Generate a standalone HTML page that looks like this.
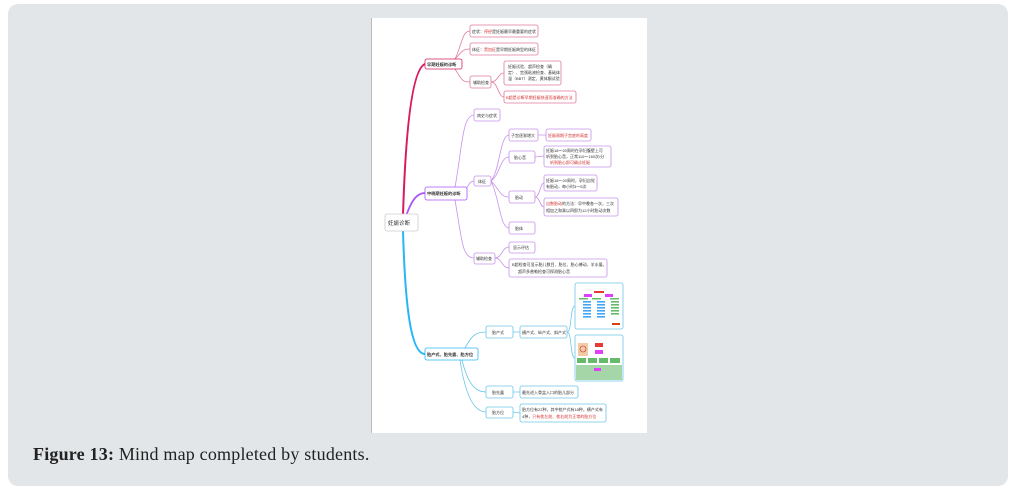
<!DOCTYPE html>
<html><head><meta charset="utf-8"><style>
html,body{margin:0;padding:0;width:1016px;height:490px;background:#fff;overflow:hidden}
.wrap{position:absolute;left:8px;top:4px;width:1000px;height:482px;background:#e3e6e8;border-radius:10px}
.cap{position:absolute;left:33px;top:444px;font-family:"Liberation Serif",serif;font-size:18px;letter-spacing:0.2px;color:#222}
svg{position:absolute;left:0;top:0}
text{font-family:"Liberation Sans","Noto Sans CJK SC",sans-serif;font-size:4px;fill:#333}
.r{fill:#d32f2f}
</style></head><body>
<div class="wrap"></div>
<svg width="1016" height="490" viewBox="0 0 1016 490">
<rect x="371" y="18" width="276" height="415" fill="#fff"/>
<line x1="371.5" y1="18" x2="371.5" y2="433" stroke="#bbb" stroke-width="1"/>
<g fill="none" stroke-linecap="round">
<path d="M403,215 C405,150 410,70 425,64" stroke="#d81b60" stroke-width="2"/>
<path d="M406,216 C410,205 415,193 425,193" stroke="#a855f7" stroke-width="1.8"/>
<path d="M403,231 C405,300 410,354 425,354" stroke="#29b6f6" stroke-width="2"/>
<g stroke="#e07b9a" stroke-width="0.8">
<path d="M455,59 C462,45 462,31 470,31"/><path d="M455,59 C462,52 462,49 470,49"/><path d="M455,69 C462,80 462,82 470,82"/>
<path d="M491,82 C498,82 498,73 504,73"/><path d="M491,82 C498,82 498,97 504,97"/>
</g>
<g stroke="#c792ea" stroke-width="0.8">
<path d="M455,187 C462,150 462,115 474,115"/><path d="M462,193 C468,190 468,181 474,181"/><path d="M455,200 C462,240 462,258 474,258"/>
<path d="M491,181 C500,170 500,135 509,135"/><path d="M491,181 C500,175 500,157 509,157"/><path d="M491,181 C500,190 500,197 509,197"/><path d="M491,181 C500,200 500,228 509,228"/>
<path d="M538,135 L546,135"/><path d="M535,157 L544,156"/><path d="M535,197 C540,197 540,183 544,183"/><path d="M535,197 C540,197 540,207 544,207"/>
<path d="M495,258 C502,258 502,247 509,247"/><path d="M495,258 C502,258 502,268 509,268"/>
</g>
<g stroke="#6cc6e6" stroke-width="0.8">
<path d="M465,348 C472,335 476,332 486,332"/><path d="M462,360 C468,385 476,392 486,392"/><path d="M460,360 C466,400 476,412 486,412"/>
<path d="M513,332 L520,332"/><path d="M567,332 C572,332 570,306 575,306"/><path d="M567,332 C572,332 570,358 575,358"/>
<path d="M513,392 L520,392"/><path d="M513,412 L520,413"/>
</g>
</g>
<g stroke-width="0.8" fill="#fff">
<rect x="385" y="214" width="33" height="17" rx="2" stroke="#ccc"/>
<rect x="425" y="59" width="37" height="10" rx="2" stroke="#d81b60"/>
<g stroke="#e07b9a">
<rect x="470" y="25" width="68" height="12" rx="2"/><rect x="470" y="43" width="68" height="12" rx="2"/>
<rect x="470" y="76" width="21" height="12" rx="2"/><rect x="504" y="61" width="57" height="24" rx="2"/>
<rect x="504" y="91" width="72" height="12" rx="2"/>
</g>
<rect x="425" y="187" width="42" height="13" rx="2" stroke="#a855f7"/>
<g stroke="#c792ea">
<rect x="474" y="109" width="26" height="12" rx="2"/><rect x="509" y="129" width="29" height="12" rx="2"/>
<rect x="546" y="129" width="45" height="12" rx="2"/><rect x="509" y="151" width="26" height="12" rx="2"/>
<rect x="544" y="146" width="67" height="21" rx="2"/><rect x="474" y="176" width="17" height="10" rx="2"/>
<rect x="509" y="191" width="26" height="12" rx="2"/><rect x="544" y="175" width="53" height="16" rx="2"/>
<rect x="544" y="198" width="74" height="18" rx="2"/><rect x="509" y="222" width="26" height="12" rx="2"/>
<rect x="474" y="253" width="21" height="11" rx="2"/><rect x="509" y="242" width="26" height="11" rx="2"/>
<rect x="509" y="259" width="98" height="18" rx="2"/>
</g>
<rect x="425" y="348" width="53" height="12" rx="2" stroke="#29b6f6"/>
<g stroke="#6cc6e6">
<rect x="486" y="326" width="27" height="12" rx="2"/><rect x="520" y="326" width="47" height="12" rx="2"/>
<rect x="575" y="283" width="48" height="46" rx="2"/><rect x="575" y="335" width="48" height="46" rx="2"/>
<rect x="486" y="386" width="27" height="12" rx="2"/><rect x="520" y="386" width="58" height="12" rx="2"/>
<rect x="486" y="407" width="27" height="11" rx="2"/><rect x="520" y="404" width="86" height="18" rx="2"/>
</g>
</g>
<g>
<rect x="594" y="291" width="10" height="2" fill="#e53935"/>
<rect x="584" y="294" width="8" height="3" fill="#e040fb"/><rect x="605" y="294" width="8" height="3" fill="#e040fb"/>
<g fill="#66bb6a"><rect x="579" y="298" width="9" height="1.5"/><rect x="592" y="298" width="9" height="1.5"/><rect x="610" y="298" width="9" height="1.5"/></g>
<g fill="#42a5f5">
<rect x="583" y="301" width="8" height="1.6"/><rect x="583" y="304" width="8" height="1.6"/><rect x="583" y="307" width="8" height="1.6"/><rect x="583" y="310" width="8" height="1.6"/><rect x="583" y="313" width="8" height="1.6"/><rect x="583" y="316" width="8" height="1.6"/>
<rect x="597" y="301" width="8" height="1.6"/><rect x="597" y="304" width="8" height="1.6"/><rect x="597" y="307" width="8" height="1.6"/><rect x="597" y="310" width="8" height="1.6"/><rect x="597" y="313" width="8" height="1.6"/><rect x="597" y="316" width="8" height="1.6"/>
</g>
<g fill="#66bb6a"><rect x="611" y="301" width="8" height="1.6"/><rect x="611" y="304" width="8" height="1.6"/><rect x="611" y="307" width="8" height="1.6"/><rect x="611" y="310" width="8" height="1.6"/><rect x="611" y="313" width="8" height="1.6"/></g>
<rect x="612" y="323" width="8" height="2" fill="#d84315"/>
<rect x="578" y="343" width="10" height="13" fill="#f3c9a8"/><circle cx="583" cy="349" r="3" fill="none" stroke="#c0392b" stroke-width="0.6"/>
<rect x="595" y="343" width="8" height="4" fill="#e53935"/><rect x="595" y="350" width="8" height="4" fill="#e040fb"/>
<g fill="#66bb6a"><rect x="577" y="358" width="9" height="5"/><rect x="588" y="358" width="9" height="5"/><rect x="599" y="358" width="9" height="5"/><rect x="610" y="358" width="10" height="5"/></g>
<rect x="576" y="365" width="46" height="15" fill="#a5d6a7"/>
<rect x="594" y="368" width="7" height="3" fill="#e040fb"/>
</g>
<text x="388" y="225" style="font-size:5.5px">妊娠诊断</text>
<text x="427" y="66" style="font-size:4.2px;font-weight:bold">早期妊娠的诊断</text>
<text x="472" y="33">症状：<tspan class="r">停经</tspan>是妊娠最早最重要的症状</text>
<text x="472" y="51">体征：<tspan class="r">黑加征</tspan>是早期妊娠典型的体征</text>
<text x="473" y="84">辅助检查</text>
<text x="508" y="68">妊娠试验、超声检查（确</text><text x="508" y="74">定）、宫颈粘液检查、基础体</text><text x="508" y="80">温（BBT）测定、黄体酮试验</text>
<text x="506" y="99" class="r">B超是诊断早期妊娠快速而准确的方法</text>
<text x="427" y="195" style="font-size:4.2px;font-weight:bold">中晚期妊娠的诊断</text>
<text x="477" y="117">病史与症状</text>
<text x="511" y="137">子宫逐渐增大</text>
<text x="548" y="137" class="r">妊娠周期子宫底的高度</text>
<text x="514" y="159">胎心音</text>
<text x="546" y="152">妊娠18～20周时在孕妇腹壁上可</text><text x="546" y="158">听到胎心音，正常110～160次/分</text><text x="550" y="164" class="r">听到胎心即可确诊妊娠</text>
<text x="478" y="183">体征</text>
<text x="515" y="199">胎动</text>
<text x="546" y="182">妊娠18～20周时，孕妇自觉</text><text x="546" y="188">有胎动，每小时3～5次</text>
<text x="546" y="205"><tspan class="r">自数胎动</tspan>的方法：早中晚各一次，三次</text><text x="546" y="212">相加之和乘以四即为12小时胎动次数</text>
<text x="515" y="230">胎体</text>
<text x="476" y="260">辅助检查</text>
<text x="513" y="249">显示评估</text>
<text x="512" y="266">B超检查可显示胎儿数目、胎位、胎心搏动、羊水量。</text><text x="518" y="273">超声多普勒检查可探测胎心音</text>
<text x="427" y="356" style="font-size:4.2px;font-weight:bold">胎产式、胎先露、胎方位</text>
<text x="492" y="334">胎产式</text>
<text x="522" y="334">横产式、纵产式、斜产式</text>
<text x="492" y="394">胎先露</text>
<text x="522" y="394">最先进入骨盆入口的胎儿部分</text>
<text x="492" y="414">胎方位</text>
<text x="522" y="411">胎方位有22种，其中枕产式有18种，横产式有</text><text x="522" y="418">4种，<tspan class="r">只有枕左前、枕右前为正常的胎方位</tspan></text>
</svg>
<div class="cap"><b>Figure 13:</b> Mind map completed by students.</div>
</body></html>
